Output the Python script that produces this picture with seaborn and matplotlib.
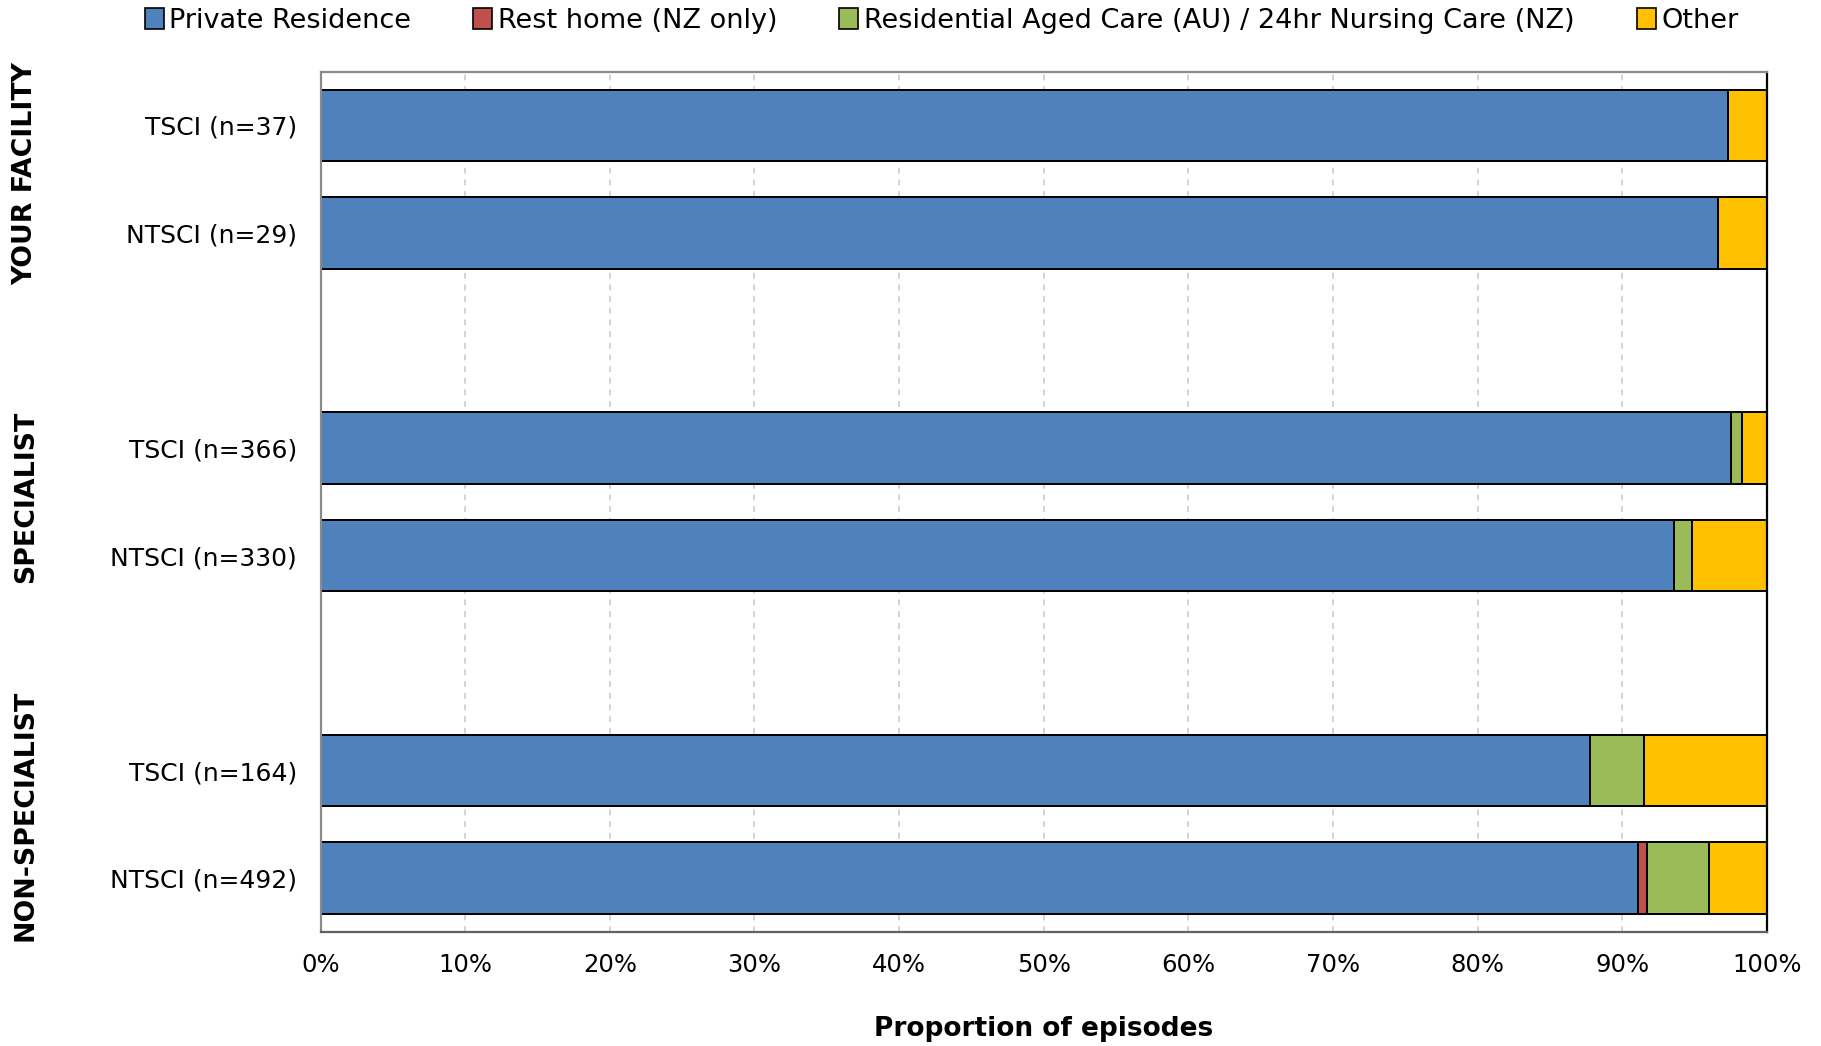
import pandas as pd
import matplotlib.pyplot as plt
import seaborn as sns
from matplotlib.patches import Patch
from matplotlib.ticker import PercentFormatter


GROUPS = ["YOUR FACILITY", "SPECIALIST", "NON-SPECIALIST"]
ROW_GROUPS = ["YOUR FACILITY", "YOUR FACILITY", "SPECIALIST", "SPECIALIST",
              "NON-SPECIALIST", "NON-SPECIALIST"]
ROW_LABELS = ["TSCI (n=37)", "NTSCI (n=29)", "TSCI (n=366)", "NTSCI (n=330)",
              "TSCI (n=164)", "NTSCI (n=492)"]

# percentages of episodes per discharge destination
PRIVATE = [97.3, 96.6, 97.5, 93.6, 87.8, 91.1]
REST_HOME = [0.0, 0.0, 0.0, 0.0, 0.0, 0.6]
AGED_CARE = [0.0, 0.0, 0.8, 1.2, 3.7, 4.3]
OTHER = [2.7, 3.4, 1.7, 5.2, 8.5, 4.0]

SERIES_NAMES = ["Private Residence", "Rest home (NZ only)",
                "Residential Aged Care (AU) / 24hr Nursing Care (NZ)", "Other"]
COLORS = ["#4F81BD", "#C0504D", "#9BBB59", "#FFC000"]


sns.set_style("white")
plt.rcParams["font.family"] = ["DejaVu Sans"]
plt.rcParams["text.color"] = "black"
plt.rcParams["axes.labelcolor"] = "black"
plt.rcParams["xtick.color"] = "black"
plt.rcParams["ytick.color"] = "black"

df = pd.DataFrame({
    "row": [g + "|" + l for g, l in zip(ROW_GROUPS, ROW_LABELS)],
    "Private Residence": PRIVATE,
    "Rest home (NZ only)": REST_HOME,
    "Residential Aged Care (AU) / 24hr Nursing Care (NZ)": AGED_CARE,
    "Other": OTHER,
})

# cumulative totals, so the bars can be stacked by overdrawing
cum = df[SERIES_NAMES].cumsum(axis=1)
for name in SERIES_NAMES:
    df["cum_" + name] = cum[name]

rows = df["row"].tolist()
order = [rows[0], rows[1], "gap1", rows[2], rows[3], "gap2", rows[4], rows[5]]

fig = plt.figure(figsize=(18.21, 10.46), dpi=100)
ax = fig.add_axes([0.1761, 0.1087, 0.7941, 0.8222])

for name, color in reversed(list(zip(SERIES_NAMES, COLORS))):
    sns.barplot(
        data=df,
        x="cum_" + name,
        y="row",
        order=order,
        orient="h",
        color=color,
        saturation=1,
        width=0.667,
        edgecolor="black",
        linewidth=1.4,
        errorbar=None,
        ax=ax,
    )

ax.set_xlim(0, 100)
ax.set_ylim(7.505, -0.495)
ax.xaxis.set_major_formatter(PercentFormatter(decimals=0))
ax.set_xticks(range(0, 101, 10))
ax.set_yticks([0, 1, 3, 4, 6, 7])
ax.set_yticklabels(ROW_LABELS)
ax.tick_params(axis="y", length=0, pad=17, labelsize=18)
ax.tick_params(axis="x", length=0, pad=15, labelsize=17.5)

ax.set_axisbelow(True)
ax.xaxis.grid(True, color="#cccccc", linestyle=(0, (3.5, 3.5)), linewidth=1.2)
ax.yaxis.grid(False)

ax.spines["top"].set_color("#8a8a8a")
ax.spines["left"].set_color("#8a8a8a")
ax.spines["bottom"].set_color("#606060")
ax.spines["right"].set_color("black")
for s in ax.spines.values():
    s.set_linewidth(1.6)

ax.set_ylabel("")
ax.set_xlabel("Proportion of episodes", fontsize=19, fontweight="bold", labelpad=28)

for group, ypos in zip(GROUPS, [0.45, 3.45, 6.42]):
    ax.text(-0.204, ypos, group, transform=ax.get_yaxis_transform(),
            rotation=90, ha="center", va="center",
            fontsize=19.3, fontweight="bold")

handles = [Patch(facecolor=c, edgecolor="black", linewidth=1.2) for c in COLORS]
fig.legend(
    handles, SERIES_NAMES,
    loc="center", bbox_to_anchor=(0.517, 0.98),
    ncol=4, frameon=False, fontsize=19.5,
    handlelength=0.7, handleheight=0.85, handletextpad=0.2,
    columnspacing=2.3,
)

fig.savefig("out.png", dpi=100)
